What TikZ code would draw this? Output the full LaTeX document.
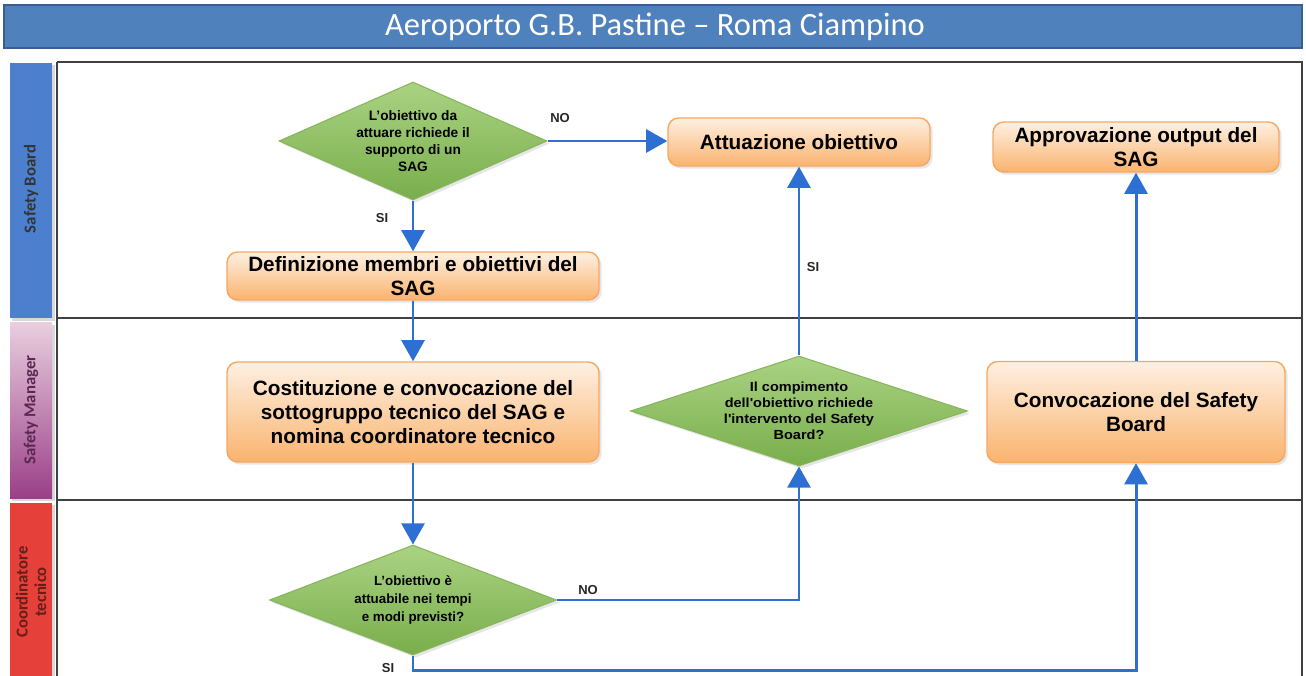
\documentclass[tikz,border=0pt]{standalone}
\usepackage{fontspec}
\setmainfont{Liberation Sans}
\newfontfamily\titolofont{Carlito}
\newfontfamily\largafont[FakeStretch=1.1]{Liberation Sans}
\usetikzlibrary{arrows.meta,shapes.geometric,shadows}
\definecolor{bluTitolo}{HTML}{4F81BD}
\definecolor{bluBordo}{HTML}{3A5F8F}
\definecolor{bluFreccia}{HTML}{2E6FD3}
\definecolor{bluCorsia}{HTML}{4C80CF}
\definecolor{rossoCorsia}{HTML}{E6403A}
\definecolor{viola}{HTML}{9A3F88}
\definecolor{rosa}{HTML}{E9CFDF}
\definecolor{arancioChiaro}{HTML}{FEF0E2}
\definecolor{arancio}{HTML}{FAB36E}
\definecolor{arancioBordo}{HTML}{F5A862}
\definecolor{verdeChiaro}{HTML}{AAD283}
\definecolor{verde}{HTML}{79AE4B}
\definecolor{verdeBordo}{HTML}{86B55C}
\tikzset{
  attivita/.style={rectangle, rounded corners=6pt, draw=arancioBordo, line width=0.8pt,
    top color=arancioChiaro, bottom color=arancio, align=center,
    font=\fontsize{11.8}{13.5}\selectfont\bfseries, inner sep=0pt,
    drop shadow={opacity=0.2, shadow xshift=1.5pt, shadow yshift=-1.5pt}},
  decisione/.style={diamond, draw=verdeBordo, line width=0.6pt,
    top color=verdeChiaro, bottom color=verde, align=center, inner sep=0pt,
    font=\fontsize{7.8}{9.6}\selectfont\bfseries,
    drop shadow={opacity=0.2, shadow xshift=1.5pt, shadow yshift=-1.5pt}},
  freccia/.style={draw=bluFreccia, line width=1.7pt, -{Triangle[width=13pt,length=12pt]}},
  etichetta/.style={font=\fontsize{7.4}{8}\selectfont\bfseries, text=black!85, inner sep=1pt},
  corsia/.style={font=\titolofont\fontsize{9.5}{10.5}\selectfont\bfseries, rotate=90, align=center}
}
\begin{document}
\begin{tikzpicture}[x=0.02cm,y=-0.02cm] % un'unita = un pixel
  \useasboundingbox (0,0) rectangle (1306,676);
    % Titolo
  \draw[fill=bluTitolo, draw=bluBordo, line width=1.5pt] (4,5) rectangle (1302,48);
  \node[text=white, font=\titolofont\fontsize{18.5}{19}\selectfont] (titolo) at (655,27) {Aeroporto G.B. Pastine – Roma Ciampino};
    % Corsie
  \fill[black!15] (12,65) rectangle (55,321); % ombre
  \fill[black!15] (12,325) rectangle (55,501);
  \fill[black!15] (12,505) rectangle (55,676);
  \fill[bluCorsia] (10,63) rectangle (52,318);
  \shade[top color=rosa, bottom color=viola] (10,322) rectangle (52,498);
  \fill[rossoCorsia] (10,503) rectangle (52,676);
  \node[corsia, text=black!80] (sb) at (31,189) {Safety Board};
  \node[corsia, text=viola!60!black] (sm) at (31,410) {Safety Manager};
  \node[corsia, text=rossoCorsia!45!black] (ct) at (31,592) {Coordinatore\\tecnico};
  \draw[black!75, line width=0.9pt] (57,62) -- (1302,62) -- (1302,676); % cornice
  \draw[black!75, line width=0.9pt] (57,62) -- (57,676);
  \draw[black!75, line width=0.9pt] (57,318) -- (1302,318);
  \draw[black!75, line width=0.9pt] (57,500) -- (1302,500);
    % Nodi
  \node[decisione, aspect=2.27, minimum width=5.36cm, minimum height=2.36cm] (d1) at (413,141) {L'obiettivo da\\attuare richiede il\\supporto di un\\SAG};
  \node[attivita, minimum width=5.24cm, minimum height=0.96cm] (att) at (799,142) {Attuazione obiettivo};
  \node[attivita, minimum width=5.72cm, minimum height=1.0cm] (appr) at (1136,147) {Approvazione output del\\SAG};
  \node[attivita, minimum width=7.44cm, minimum height=0.96cm] (def) at (413,276) {Definizione membri e obiettivi del\\SAG};
  \node[attivita, minimum width=7.44cm, minimum height=2.0cm] (cost) at (413,412) {Costituzione e convocazione del\\sottogruppo tecnico del SAG e\\nomina coordinatore tecnico};
  \node[decisione, aspect=3.06, inner sep=-3pt, minimum width=6.74cm, minimum height=2.2cm, font=\largafont\fontsize{7.5}{9.2}\selectfont\bfseries] (d2) at (799,411) {Il compimento\\dell'obiettivo richiede\\l'intervento del Safety\\Board?};
  \node[attivita, minimum width=5.96cm, minimum height=2.02cm] (conv) at (1136,412) {Convocazione del Safety\\Board};
  \node[decisione, aspect=2.6, minimum width=5.74cm, minimum height=2.2cm, font=\fontsize{7.6}{10}\selectfont\bfseries] (d3) at (413,600) {L'obiettivo è\\attuabile nei tempi\\e modi previsti?};
    % Frecce
  \draw[freccia] (d1.east) -- (d1.east -| att.west);
  \draw[freccia] (d1.south) -- (def.north);
  \draw[freccia] (def.south) -- (cost.north);
  \draw[freccia] (cost.south) -- (d3.north);
  \draw[freccia] (d3.east) -| (d2.south);
  \draw[freccia] (d2.north) -- (d2.north |- att.south);
  \draw[freccia] (conv.north) -- (appr.south);
  \draw[freccia] (d3.south) -- ++(0,15) -| (conv.south);
    % Etichette
  \node[etichetta] (no1) at (560,118) {NO};
  \node[etichetta] (si1) at (382,218) {SI};
  \node[etichetta] (si2) at (813,267) {SI};
  \node[etichetta] (no2) at (588,590) {NO};
  \node[etichetta] (si3) at (388,668) {SI};
\end{tikzpicture}
\end{document}
